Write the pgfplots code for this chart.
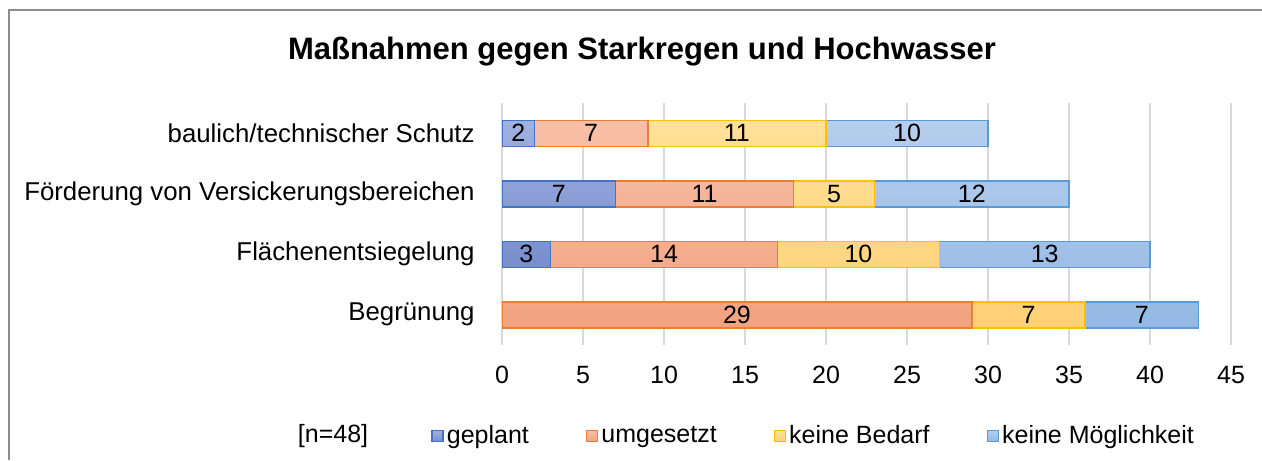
\documentclass[border=0pt]{standalone}
\usepackage{fontspec}
\setmainfont{Liberation Sans}
\usepackage{pgfplots}
\pgfplotsset{compat=1.18}
\definecolor{gepT}{RGB}{160,177,225}
\definecolor{gepB}{RGB}{120,142,204}
\definecolor{gepD}{RGB}{68,114,196}
\definecolor{umgT}{RGB}{248,192,168}
\definecolor{umgB}{RGB}{242,162,128}
\definecolor{umgD}{RGB}{237,125,49}
\definecolor{bedT}{RGB}{255,225,152}
\definecolor{bedB}{RGB}{255,208,118}
\definecolor{bedD}{RGB}{255,192,0}
\definecolor{moeT}{RGB}{182,206,238}
\definecolor{moeB}{RGB}{148,184,228}
\definecolor{moeD}{RGB}{91,155,213}
\definecolor{gridgray}{RGB}{217,217,217}
\definecolor{framegray}{RGB}{140,140,140}
\newcommand{\lf}{\fontsize{12.5}{15}\selectfont}
\newcommand{\cf}{\fontsize{12.9}{15}\selectfont}
\begin{document}
\begin{tikzpicture}[x=1pt,y=1pt]
\useasboundingbox (0,0) rectangle (631,230);
\draw[framegray, line width=0.75pt] (4.5,0) -- (4.5,225) -- (640,225);
\node[font=\fontsize{15.5}{18}\selectfont\bfseries] at (321,204) {Maßnahmen gegen Starkregen und Hochwasser};
\node[font=\lf] at (166.5,12) {[n=48]};
\begin{axis}[
  at={(251pt,57.5pt)}, anchor=south west,
  width=364.5pt, height=121pt, scale only axis,
  xbar stacked, bar width=13pt,
  xmin=0, xmax=45, ymin=0.5, ymax=4.5,
  xtick={0,5,...,45},
  ytick={1,2,3,4},
  yticklabels={Begrünung, Flächenentsiegelung, Förderung von Versickerungsbereichen, baulich/technischer Schutz},
  xmajorgrids, grid style={draw=gridgray, line width=0.75pt},
  axis line style={draw=none},
  major tick length=0pt,
  tick label style={font=\lf, inner sep=0pt},
  /pgf/number format/assume math mode=true,
  xticklabel style={anchor=center, yshift=-15pt},
  yticklabel style={anchor=east, xshift=-13.5pt, font=\cf},
  nodes near coords,
  point meta=explicit symbolic,
  every node near coord/.append style={anchor=center, font=\lf, inner sep=0pt, text=black},
  legend style={at={(-0.0974,-0.376)}, anchor=west, draw=none, fill=none,
     legend columns=4, font=\lf, inner sep=0pt,
     nodes={inner sep=1.5pt},
     /tikz/every even column/.append style={column sep=27pt}},
  legend image code/.code={\draw[#1, line width=0.75pt] (0pt,-2.75pt) rectangle (5.5pt,2.75pt);},
]
\addplot[top color=gepT, bottom color=gepB, draw=gepD, line width=0.75pt] coordinates {(0,1) [{}] (3,2) [3] (7,3) [7] (2,4) [2]};
\addlegendentry{geplant}
\addplot[top color=umgT, bottom color=umgB, draw=umgD, line width=0.75pt] coordinates {(29,1) [29] (14,2) [14] (11,3) [11] (7,4) [7]};
\addlegendentry{umgesetzt}
\addplot[top color=bedT, bottom color=bedB, draw=bedD, line width=0.75pt] coordinates {(7,1) [7] (10,2) [10] (5,3) [5] (11,4) [11]};
\addlegendentry{keine Bedarf}
\addplot[top color=moeT, bottom color=moeB, draw=moeD, line width=0.75pt] coordinates {(7,1) [7] (13,2) [13] (12,3) [12] (10,4) [10]};
\addlegendentry{keine Möglichkeit}
\end{axis}
\end{tikzpicture}
\end{document}
